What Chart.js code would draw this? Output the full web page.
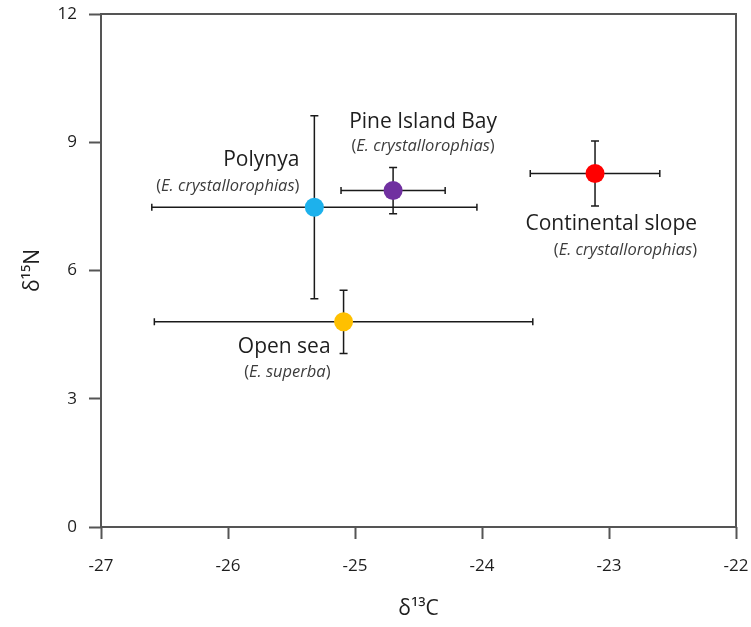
<!DOCTYPE html>
<html>
<head>
<meta charset="utf-8">
<script src="https://cdn.jsdelivr.net/npm/chart.js@4"></script>
<style>
  html, body { margin: 0; padding: 0; background: #fff; }
  #wrap { width: 751px; height: 627px; }
</style>
</head>
<body>
<div id="wrap"><canvas id="chart"></canvas></div>
<script>
// data
const sites = ['Polynya', 'Pine Island Bay', 'Open sea', 'Continental slope'];
const species = ['E. crystallorophias', 'E. crystallorophias', 'E. superba', 'E. crystallorophias'];
const d13C = [-25.32, -24.70, -25.09, -23.11];
const d13CErr = [1.28, 0.41, 1.49, 0.51];
const d15N = [7.48, 7.87, 4.80, 8.27];
const d15NErr = [2.14, 0.54, 0.74, 0.76];
const xTicks = [-27, -26, -25, -24, -23, -22];
const yTicks = [0, 3, 6, 9, 12];
const pointColors = ['#1db1ec', '#7030a0', '#ffc000', '#ff0000'];

// where each label sits relative to its point (pixels)
const labelPos = [
  { dx: -15, dy: -47, sdy: -21, align: 'right' },
  { dx: 30, dy: -69, sdy: -44, align: 'center' },
  { dx: -13, dy: 25, sdy: 50, align: 'right' },
  { dx: 102, dy: 51, sdy: 77, align: 'right' }
];

const FONT = '"Open Sans", Lato, sans-serif';

const frame = {
  id: 'frame',
  beforeDatasetsDraw(chart) {
    const { ctx, chartArea: a } = chart;
    ctx.save();
    ctx.strokeStyle = '#555';
    ctx.lineWidth = 2;
    ctx.strokeRect(a.left, a.top, a.right - a.left, a.bottom - a.top);
    ctx.restore();
  }
};

const errorBars = {
  id: 'errorBars',
  beforeDatasetsDraw(chart) {
    const { ctx, scales: { x, y } } = chart;
    ctx.save();
    ctx.strokeStyle = '#1a1a1a';
    ctx.lineWidth = 1.5;
    d13C.forEach((cx, i) => {
      const px = x.getPixelForValue(cx), py = y.getPixelForValue(d15N[i]);
      const x0 = x.getPixelForValue(cx - d13CErr[i]), x1 = x.getPixelForValue(cx + d13CErr[i]);
      const y0 = y.getPixelForValue(d15N[i] - d15NErr[i]), y1 = y.getPixelForValue(d15N[i] + d15NErr[i]);
      ctx.beginPath();
      ctx.moveTo(x0, py); ctx.lineTo(x1, py);
      ctx.moveTo(x0, py - 3.5); ctx.lineTo(x0, py + 3.5);
      ctx.moveTo(x1, py - 3.5); ctx.lineTo(x1, py + 3.5);
      ctx.moveTo(px, y0); ctx.lineTo(px, y1);
      ctx.moveTo(px - 4, y0); ctx.lineTo(px + 4, y0);
      ctx.moveTo(px - 4, y1); ctx.lineTo(px + 4, y1);
      ctx.stroke();
    });
    ctx.restore();
  }
};

const siteLabels = {
  id: 'siteLabels',
  afterDatasetsDraw(chart) {
    const { ctx, scales: { x, y } } = chart;
    ctx.save();
    ctx.textBaseline = 'middle';
    sites.forEach((name, i) => {
      const p = labelPos[i];
      const px = x.getPixelForValue(d13C[i]) + p.dx;
      const py = y.getPixelForValue(d15N[i]);
      ctx.font = '21px ' + FONT;
      ctx.fillStyle = '#1e1e1e';
      ctx.textAlign = p.align;
      ctx.fillText(name, px, py + p.dy);
      // "(E. species)" with upright brackets and italic name
      const up = '16.5px ' + FONT, it = 'italic 16.5px ' + FONT;
      ctx.font = up; const wb = ctx.measureText('(').width, we = ctx.measureText(')').width;
      ctx.font = it; const wi = ctx.measureText(species[i]).width;
      const total = wb + wi + we;
      let sx = p.align === 'right' ? px - total : px - total / 2;
      const sy = py + p.sdy;
      ctx.textAlign = 'left';
      ctx.fillStyle = '#3c3c3c';
      ctx.font = up; ctx.fillText('(', sx, sy); sx += wb;
      ctx.font = it; ctx.fillText(species[i], sx, sy); sx += wi;
      ctx.font = up; ctx.fillText(')', sx, sy);
    });
    ctx.restore();
  }
};

new Chart(document.getElementById('chart'), {
  type: 'scatter',
  data: {
    datasets: [{
      data: d13C.map((v, i) => ({ x: v, y: d15N[i] })),
      backgroundColor: pointColors,
      borderWidth: 0,
      pointRadius: 9.5,
      pointHoverRadius: 9.5
    }]
  },
  options: {
    responsive: true,
    maintainAspectRatio: false,
    animation: false,
    layout: { padding: { top: 14, right: 15, left: 0, bottom: 0 } },
    plugins: { legend: { display: false }, tooltip: { enabled: false } },
    scales: {
      x: {
        type: 'linear',
        min: -27, max: -22,
        afterBuildTicks: s => { s.ticks = xTicks.map(v => ({ value: v })); },
        afterFit: s => { s.height = 100; s.paddingLeft = 0; s.paddingRight = 0; },
        border: { display: false },
        grid: { display: true, drawOnChartArea: false, tickLength: 12, tickColor: '#555', tickWidth: 2 },
        ticks: { color: '#1e1e1e', font: { family: FONT, size: 17 }, padding: 17 },
        title: { display: true, text: 'δ¹³C', color: '#1e1e1e', font: { family: FONT, size: 21 }, padding: { top: 0, bottom: 5 } }
      },
      y: {
        type: 'linear',
        min: 0, max: 12,
        afterBuildTicks: s => { s.ticks = yTicks.map(v => ({ value: v })); },
        afterFit: s => { s.width = 101; s.paddingTop = 0; s.paddingBottom = 0; },
        border: { display: false },
        grid: { display: true, drawOnChartArea: false, tickLength: 12, tickColor: '#555', tickWidth: 2 },
        ticks: { color: '#1e1e1e', font: { family: FONT, size: 17 }, padding: 12 },
        title: { display: true, text: 'δ¹⁵N', color: '#1e1e1e', font: { family: FONT, size: 21 }, padding: { top: 20, bottom: 0 } }
      }
    }
  },
  plugins: [frame, errorBars, siteLabels]
});
</script>
</body>
</html>
